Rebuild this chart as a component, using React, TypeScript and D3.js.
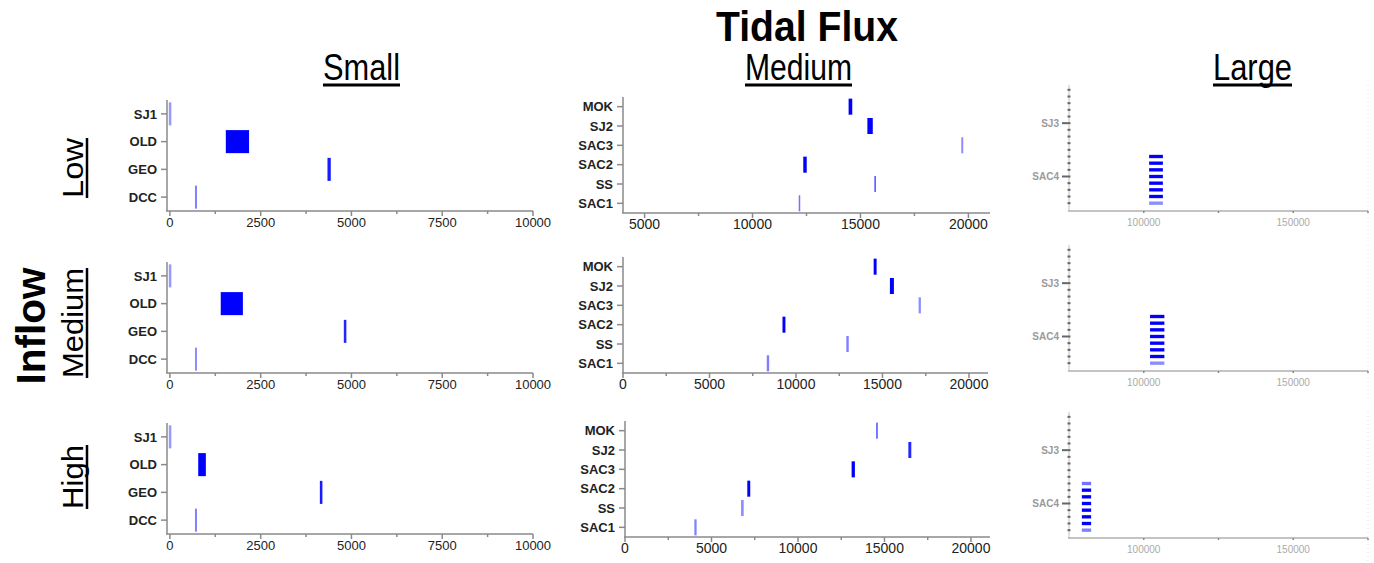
import React from 'react';
import * as d3 from 'd3';

// categories
const smallCats = ['SJ1', 'OLD', 'GEO', 'DCC'];
const mediumCats = ['MOK', 'SJ2', 'SAC3', 'SAC2', 'SS', 'SAC1'];
const largeCats = ['r1', 'r2', 'r3', 'r4', 'r5', 'SJ3', 'r7', 'r8', 'r9', 'r10', 'r11', 'r12', 'r13', 'SAC4', 'r15', 'r16', 'r17', 'r18'];
const largeTickLabels = ['SJ3', 'SAC4'];

// tick values
const smallTicks = [0, 2500, 5000, 7500, 10000];
const smallMinor = [1250, 3750, 6250, 8750];
const mediumTicksLow = [5000, 10000, 15000, 20000];
const mediumTicks = [0, 5000, 10000, 15000, 20000];
const mediumMinor = [2500, 7500, 12500, 17500];
const largeTicks = [100000, 150000];
const largeMinor = [125000, 175000];

// [category, from, to, intensity]
type Mark = [string, number, number, number];

const smallLow: Mark[] = [['SJ1', -30, 40, 0.4], ['OLD', 1540, 2180, 1], ['GEO', 4340, 4430, 0.9], ['DCC', 690, 745, 0.5]];
const smallMed: Mark[] = [['SJ1', -30, 40, 0.4], ['OLD', 1400, 2010, 1], ['GEO', 4790, 4860, 0.85], ['DCC', 690, 745, 0.45]];
const smallHigh: Mark[] = [['SJ1', -30, 40, 0.4], ['OLD', 780, 990, 1], ['GEO', 4130, 4200, 0.9], ['DCC', 690, 745, 0.5]];

const mediumLow: Mark[] = [['MOK', 14450, 14620, 1], ['SJ2', 15320, 15570, 1], ['SAC3', 19670, 19760, 0.45], ['SAC2', 12350, 12510, 1], ['SS', 15640, 15720, 0.6], ['SAC1', 12140, 12210, 0.55]];
const mediumMed: Mark[] = [['MOK', 14490, 14660, 1], ['SJ2', 15430, 15660, 1], ['SAC3', 17090, 17220, 0.45], ['SAC2', 9220, 9390, 1], ['SS', 12910, 13050, 0.5], ['SAC1', 8310, 8450, 0.5]];
const mediumHigh: Mark[] = [['MOK', 14510, 14620, 0.55], ['SJ2', 16380, 16550, 0.85], ['SAC3', 13100, 13290, 1], ['SAC2', 7070, 7240, 1], ['SS', 6710, 6860, 0.45], ['SAC1', 4010, 4140, 0.5]];

const largeLow: Mark[] = [
  ['r11', 101800, 106400, 1], ['r12', 101800, 106400, 1], ['r13', 101800, 106400, 1], ['SAC4', 101800, 106400, 1],
  ['r15', 101800, 106400, 1], ['r16', 101800, 106400, 1], ['r17', 101800, 106400, 1], ['r18', 101800, 106400, 0.45],
];
const largeMed: Mark[] = [
  ['r11', 102100, 106900, 1], ['r12', 102100, 106900, 1], ['r13', 102100, 106900, 1], ['SAC4', 102100, 106900, 1],
  ['r15', 102100, 106900, 1], ['r16', 102100, 106900, 1], ['r17', 102100, 106900, 1], ['r18', 102100, 106900, 0.45],
];
const largeHigh: Mark[] = [
  ['r11', 79300, 82400, 0.55], ['r12', 79300, 82400, 1], ['r13', 79300, 82400, 1], ['SAC4', 79300, 82400, 1],
  ['r15', 79300, 82400, 1], ['r16', 79300, 82400, 1], ['r17', 79300, 82400, 1], ['r18', 79300, 82400, 0.5],
];

const colHeads = ['Small', 'Medium', 'Large'];
const rowHeads = ['Low', 'Medium', 'High'];

const FONT = 'Liberation Sans, Arial, Helvetica, sans-serif';
const AXIS = '#8a8a8a';
const color = d3.interpolateRgb('#ffffff', '#0000ff');

interface PanelProps {
  cats: string[];
  marks: Mark[];
  domain: [number, number];
  xr: [number, number];
  axisY: number;
  height: number;
  ticks: number[];
  minor: number[];
  kind: 'small' | 'medium' | 'large';
}

const Panel: React.FC<PanelProps> = ({ cats, marks, domain, xr, axisY, height, ticks, minor, kind }) => {
  const x = d3.scaleLinear().domain(domain).range(xr);
  const large = kind === 'large';
  const y = d3.scaleBand<string>()
    .domain(cats)
    .range(large ? [axisY - 124.5, axisY - 4.5] : [axisY - height, axisY])
    .paddingInner(large ? 0.5 : 0.17)
    .paddingOuter(large ? 0.25 : 0.085);
  const labelSize = kind === 'medium' ? 14 : 13;
  const yTop = large ? axisY - 126 : axisY - height;
  return (
    <g>
      {/* y axis */}
      <line x1={xr[0]} x2={xr[0]} y1={yTop} y2={axisY} stroke={large ? '#d4d4d4' : AXIS} strokeWidth={1.5} />
      {cats.map(c => {
        const cy = (y(c) as number) + y.bandwidth() / 2;
        if (large) {
          const labelled = largeTickLabels.includes(c);
          return (
            <g key={c}>
              <line x1={labelled ? xr[0] - 7 : xr[0] - 1.5} x2={xr[0] + 1.5} y1={cy} y2={cy} stroke="#666" strokeWidth={2} />
              {labelled && (
                <text x={xr[0] - 10} y={cy} dy="0.35em" textAnchor="end" fontFamily={FONT} fontSize={10}
                  fontWeight="bold" fill="#9a9a9a">{c}</text>
              )}
            </g>
          );
        }
        return (
          <g key={c}>
            <line x1={xr[0] - 6} x2={xr[0]} y1={cy} y2={cy} stroke={AXIS} strokeWidth={1.5} />
            <text x={xr[0] - 10} y={cy} dy="0.36em" textAnchor="end" fontFamily={FONT} fontSize={13}
              fontWeight="bold" fill="#222">{c}</text>
          </g>
        );
      })}
      {/* x axis */}
      <line x1={xr[0] - 1} x2={xr[1]} y1={axisY} y2={axisY} stroke={large ? '#b0b0b0' : AXIS} strokeWidth={1.5} />
      {ticks.map(t => (
        <g key={t}>
          <line x1={x(t)} x2={x(t)} y1={axisY} y2={axisY + (large ? 2 : 5)} stroke={large ? '#888' : AXIS} strokeWidth={1.5} />
          {large ? (
            <text x={x(t)} y={axisY + 15} textAnchor="middle" fontFamily={FONT} fontSize={10} fill="#aaa">{t}</text>
          ) : (
            <text x={x(t)} y={axisY + 16} textAnchor="middle" fontFamily={FONT} fontSize={labelSize} fill="#222">{t}</text>
          )}
        </g>
      ))}
      {minor.map(t => (
        <line key={t} x1={x(t)} x2={x(t)} y1={axisY} y2={axisY + (large ? 2 : 3)} stroke={large ? '#888' : AXIS} strokeWidth={1.5} />
      ))}
      {large && (
        <line x1={xr[1]} x2={xr[1]} y1={axisY - 126} y2={axisY + 30} stroke="#ddd" strokeWidth={1} strokeDasharray="1,3" />
      )}
      {/* marks */}
      {marks.map(([c, lo, hi, w], i) => (
        <rect key={i} x={x(lo)} width={Math.max(1, x(hi) - x(lo))} y={y(c)} height={y.bandwidth()} fill={color(w)} />
      ))}
    </g>
  );
};

const rowsAxis = {
  small: [211, 373, 534],
  medium: [213, 373, 537],
  large: [211, 371, 538],
};

const App: React.FC = () => {
  const smallData = [smallLow, smallMed, smallHigh];
  const mediumData = [mediumLow, mediumMed, mediumHigh];
  const largeData = [largeLow, largeMed, largeHigh];
  const mediumDomains: [number, number][] = [[4000, 21000], [0, 21100], [0, 21100]];
  const mediumRanges: [number, number][] = [[623, 990], [623, 988], [625, 990]];

  const colPos = [{ cx: 361.5, len: 77 }, { cx: 798.5, len: 107 }, { cx: 1252.5, len: 79 }];
  const rowPos = [{ cy: 168, len: 60 }, { cy: 323, len: 110 }, { cy: 477, len: 64 }];

  return (
    <div style={{ position: 'absolute', left: 0, top: 0 }}>
      <svg width={1374} height={563} style={{ display: 'block', background: '#fff' }}>
        <text x={807} y={41} textAnchor="middle" fontFamily={FONT} fontWeight="bold" fontSize={43}
          textLength={182} lengthAdjust="spacingAndGlyphs">Tidal Flux</text>
        {colHeads.map((h, i) => (
          <g key={h}>
            <text x={colPos[i].cx} y={80} textAnchor="middle" fontFamily={FONT} fontSize={36}
              textLength={colPos[i].len} lengthAdjust="spacingAndGlyphs">{h}</text>
            <line x1={colPos[i].cx - colPos[i].len / 2} x2={colPos[i].cx + colPos[i].len / 2} y1={85} y2={85}
              stroke="#000" strokeWidth={3} />
          </g>
        ))}
        <text transform="translate(45,326) rotate(-90)" textAnchor="middle" fontFamily={FONT} fontWeight="bold"
          fontSize={40} textLength={117} lengthAdjust="spacingAndGlyphs">Inflow</text>
        {rowHeads.map((h, i) => (
          <g key={h}>
            <text transform={`translate(83,${rowPos[i].cy}) rotate(-90)`} textAnchor="middle" fontFamily={FONT}
              fontSize={30} textLength={rowPos[i].len} lengthAdjust="spacingAndGlyphs">{h}</text>
            <line x1={87} x2={87} y1={rowPos[i].cy - rowPos[i].len / 2} y2={rowPos[i].cy + rowPos[i].len / 2}
              stroke="#000" strokeWidth={2.5} />
          </g>
        ))}
        {smallData.map((m, i) => (
          <Panel key={`s${i}`} kind="small" cats={smallCats} marks={m} domain={[-80, 10000]} xr={[167, 533]}
            axisY={rowsAxis.small[i]} height={111} ticks={smallTicks} minor={smallMinor} />
        ))}
        {mediumData.map((m, i) => (
          <Panel key={`m${i}`} kind="medium" cats={mediumCats} marks={m} domain={mediumDomains[i]} xr={mediumRanges[i]}
            axisY={rowsAxis.medium[i]} height={116} ticks={i === 0 ? mediumTicksLow : mediumTicks}
            minor={i === 0 ? mediumMinor.slice(1) : mediumMinor} />
        ))}
        {largeData.map((m, i) => (
          <Panel key={`l${i}`} kind="large" cats={largeCats} marks={m} domain={[75000, 175000]} xr={[1069, 1368]}
            axisY={rowsAxis.large[i]} height={121} ticks={largeTicks} minor={largeMinor} />
        ))}
      </svg>
    </div>
  );
};

export default App;
